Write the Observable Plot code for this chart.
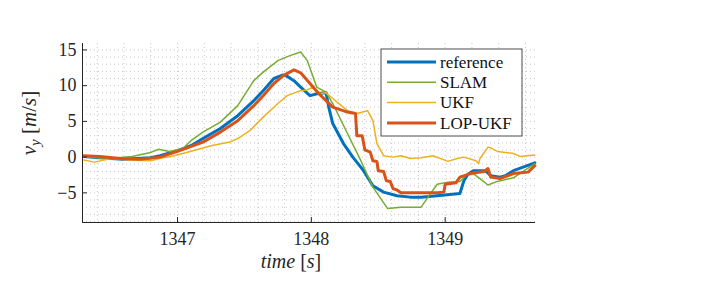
<!DOCTYPE html>
<html>
<head>
<meta charset="utf-8">
<script src="https://cdn.jsdelivr.net/npm/d3@7"></script>
<script src="https://cdn.jsdelivr.net/npm/@observablehq/plot@0.6"></script>
<style>
  html, body { margin: 0; padding: 0; background: white; }
  #chart svg { display: block; }
</style>
</head>
<body>
<div id="chart"></div>
<script>
// ---- data (time in s, v_y in m/s) ----
const seriesNames = ["reference", "SLAM", "UKF", "LOP-UKF"];
const seriesColors = ["#0072BD", "#77AC30", "#EDB120", "#D95319"];
const seriesWidths = [3, 1.5, 1.5, 3];

const refT = [1346.30,1346.42,1346.59,1346.80,1346.87,1347.00,1347.10,1347.19,1347.32,1347.45,1347.57,1347.64,1347.72,1347.79,1347.82,1347.87,1347.92,1347.99,1348.05,1348.11,1348.13,1348.16,1348.24,1348.31,1348.39,1348.46,1348.54,1348.64,1348.74,1348.82,1348.94,1349.11,1349.14,1349.17,1349.21,1349.30,1349.34,1349.41,1349.45,1349.51,1349.67];
const refV = [0.1,-0.1,-0.3,-0.1,0.2,0.9,1.6,2.6,4.0,5.8,7.9,9.3,11.0,11.5,11.3,10.7,9.8,8.6,8.9,9.0,7.0,4.7,1.9,0.0,-1.9,-4.0,-4.9,-5.4,-5.6,-5.6,-5.4,-5.1,-3.3,-2.4,-1.9,-1.9,-2.6,-2.8,-2.6,-1.9,-0.8];

const slamT = [1346.30,1346.49,1346.66,1346.79,1346.86,1346.94,1347.04,1347.10,1347.19,1347.32,1347.45,1347.57,1347.64,1347.75,1347.84,1347.92,1347.97,1348.04,1348.11,1348.16,1348.27,1348.37,1348.46,1348.57,1348.67,1348.82,1348.89,1348.94,1349.02,1349.11,1349.17,1349.21,1349.26,1349.32,1349.39,1349.51,1349.67];
const slamV = [0.0,-0.2,0.1,0.6,1.1,0.8,1.2,2.3,3.5,4.9,7.2,10.7,11.9,13.5,14.2,14.7,13.5,9.8,9.1,7.5,3.3,-0.5,-4.2,-7.2,-7.0,-7.0,-5.1,-3.8,-3.5,-3.4,-2.3,-2.3,-3.0,-3.9,-3.4,-2.9,-0.9];

const ukfT = [1346.30,1346.38,1346.50,1346.65,1346.80,1346.89,1346.95,1347.06,1347.25,1347.39,1347.45,1347.54,1347.64,1347.75,1347.82,1347.92,1347.97,1348.01,1348.07,1348.11,1348.16,1348.27,1348.34,1348.42,1348.46,1348.49,1348.54,1348.61,1348.67,1348.74,1348.82,1348.91,1349.02,1349.09,1349.14,1349.23,1349.25,1349.26,1349.32,1349.34,1349.39,1349.51,1349.56,1349.67];
const ukfV = [-0.4,-0.7,-0.2,-0.4,-0.5,-0.1,0.1,0.6,1.6,2.1,2.6,3.7,5.6,7.5,8.6,9.3,9.4,9.8,8.9,9.0,8.2,6.5,6.1,6.5,5.1,1.9,0.2,0.0,0.2,-0.2,-0.1,0.2,-0.6,-0.2,0.0,-0.5,-0.9,-0.2,1.4,1.3,0.8,0.5,0.1,0.3];

const lopT = [1346.30,1346.42,1346.57,1346.72,1346.87,1347.00,1347.19,1347.32,1347.45,1347.57,1347.64,1347.72,1347.79,1347.87,1347.92,1348.05,1348.16,1348.27,1348.33,1348.34,1348.38,1348.40,1348.44,1348.46,1348.49,1348.50,1348.54,1348.56,1348.59,1348.61,1348.64,1348.67,1348.94,1348.99,1349.00,1349.08,1349.11,1349.19,1349.29,1349.32,1349.34,1349.41,1349.51,1349.62,1349.67];
const lopV = [0.2,0.1,-0.2,-0.3,0.0,0.8,2.1,3.5,5.1,7.2,8.6,10.3,11.4,12.2,11.8,9.0,7.0,6.3,6.1,3.0,3.0,1.0,0.7,-0.5,-0.6,-1.9,-2.0,-3.3,-3.4,-4.4,-4.6,-5.0,-5.0,-4.9,-3.8,-3.6,-2.8,-2.3,-2.0,-1.6,-2.8,-3.0,-2.3,-2.1,-1.2];

const xTicks = [1347, 1348, 1349];
const yTicks = [-5, 0, 5, 10, 15];
const xDomain = [1346.29, 1349.675];
const yDomain = [-9.15, 15.9];

// ---- build tables ----
function toRows(T, V, name) {
  const n = Math.min(T.length, V.length);
  const rows = [];
  for (let i = 0; i < n; i++) rows.push({t: T[i], v: V[i], series: name});
  return rows;
}
const allSeries = [
  toRows(refT, refV, "reference"),
  toRows(slamT, slamV, "SLAM"),
  toRows(ukfT, ukfV, "UKF"),
  toRows(lopT, lopV, "LOP-UKF")
];

const xMinor = d3.range(1346.4, 1349.65, 0.2).map(d => +d.toFixed(1));
const yMinor = d3.range(-9, 16, 1);

const W = 718, H = 287, ML = 82, MR = 183, MT = 43, MB = 65;
const axisColor = "#262626";

const chart = Plot.plot({
  width: W, height: H,
  marginLeft: ML, marginRight: MR, marginTop: MT, marginBottom: MB,
  x: {domain: xDomain},
  y: {domain: yDomain},
  style: {fontFamily: "'Liberation Serif', 'DejaVu Serif', serif", fontSize: "18px", color: axisColor, background: "white"},
  marks: [
    Plot.gridX(xMinor, {stroke: "#8c8c8c", strokeOpacity: 0.6, strokeWidth: 0.8, strokeDasharray: "1,3"}),
    Plot.gridY(yMinor, {stroke: "#8c8c8c", strokeOpacity: 0.6, strokeWidth: 0.8, strokeDasharray: "1,3"}),
    ...allSeries.map((rows, i) => Plot.line(rows, {
      x: "t", y: "v", stroke: seriesColors[i], strokeWidth: seriesWidths[i],
      strokeLinejoin: "round", strokeLinecap: "round"
    })),
    Plot.ruleX([xDomain[0]], {stroke: axisColor, strokeWidth: 1}),
    Plot.ruleY([yDomain[0]], {stroke: axisColor, strokeWidth: 1}),
    Plot.tickX(xTicks, {x: d => d, stroke: axisColor, insetTop: H - MT - MB - 5}),
    Plot.tickY(yTicks, {y: d => d, stroke: axisColor, insetRight: W - ML - MR - 5}),
    Plot.axisX({ticks: xTicks, tickSize: 0, tickPadding: 10, fontSize: 18, label: null, tickFormat: d => String(d)}),
    Plot.axisY({ticks: yTicks, tickSize: 0, tickPadding: 6, fontSize: 18, label: null})
  ]
});

document.getElementById("chart").appendChild(chart);

// ---- axis titles and legend ----
const svg = d3.select(chart);
const serif = "'Liberation Serif', 'DejaVu Serif', serif";

const yl = svg.append("text")
  .attr("transform", "translate(36,123) rotate(-90)")
  .attr("text-anchor", "middle")
  .attr("fill", axisColor)
  .style("font-family", serif).style("font-size", "21px");
yl.append("tspan").attr("font-style", "italic").text("v");
yl.append("tspan").attr("font-style", "italic").attr("font-size", "15px").attr("dy", "4").text("y");
yl.append("tspan").attr("dy", "-4").text(" [");
yl.append("tspan").attr("font-style", "italic").text("m");
yl.append("tspan").text("/");
yl.append("tspan").attr("font-style", "italic").text("s");
yl.append("tspan").text("]");

const xl = svg.append("text")
  .attr("x", 291).attr("y", 268)
  .attr("text-anchor", "middle")
  .attr("fill", axisColor)
  .style("font-family", serif).style("font-size", "20px");
xl.append("tspan").attr("font-style", "italic").text("time");
xl.append("tspan").text(" [");
xl.append("tspan").attr("font-style", "italic").text("s");
xl.append("tspan").text("]");

const lg = svg.append("g").attr("text-anchor", "start");
lg.append("rect")
  .attr("x", 381).attr("y", 49).attr("width", 141).attr("height", 87)
  .attr("fill", "white").attr("stroke", "#3a3a3a").attr("stroke-width", 0.9);
seriesNames.forEach((name, i) => {
  const y = 62 + i * 20.3;
  lg.append("line").attr("x1", 387).attr("x2", 436).attr("y1", y).attr("y2", y)
    .attr("stroke", seriesColors[i]).attr("stroke-width", seriesWidths[i]);
  lg.append("text").attr("x", 440).attr("y", y).attr("dy", "0.33em")
    .attr("text-anchor", "start")
    .attr("fill", "#111").style("font-family", serif).style("font-size", "17px")
    .text(name);
});
</script>
</body>
</html>
